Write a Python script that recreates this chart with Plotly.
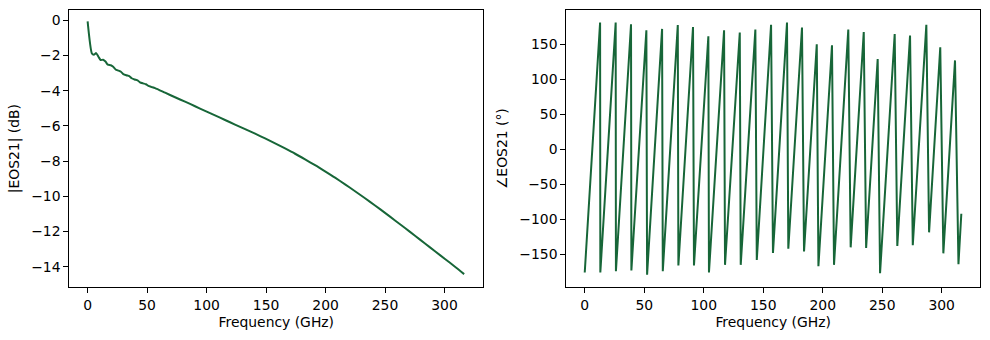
import plotly.graph_objects as go

# Magnitude (dB) vs frequency (GHz)
freq_mag = [0, 3.6, 5.2, 7.2, 9.2, 11.0, 13.0, 15.0, 17.0, 19.5, 21.5, 23.5, 26.0,
            28.0, 30.0, 32.5, 35.0, 37.0, 39.5, 42.0, 44.0, 46.5, 49.0, 51.0, 53.5,
            56.7, 65.1, 73.5, 81.9, 90.3, 98.7, 107.1, 115.5, 123.9, 132.4, 140.8,
            149.2, 157.6, 166.0, 174.4, 182.8, 191.2, 199.6, 208.0, 216.4, 224.8,
            233.2, 241.6, 250.0, 258.4, 266.8, 275.2, 283.6, 292.0, 300.4, 308.8,
            316.5]
mag_db = [-0.06, -1.88, -1.95, -1.86, -2.08, -2.25, -2.24, -2.34, -2.52, -2.55,
          -2.64, -2.79, -2.86, -2.92, -3.05, -3.12, -3.17, -3.29, -3.36, -3.41,
          -3.52, -3.58, -3.63, -3.72, -3.78, -3.85, -4.11, -4.37, -4.62, -4.88,
          -5.14, -5.40, -5.66, -5.92, -6.18, -6.44, -6.71, -6.99, -7.28, -7.58,
          -7.90, -8.23, -8.58, -8.94, -9.32, -9.71, -10.11, -10.52, -10.94, -11.37,
          -11.80, -12.24, -12.68, -13.12, -13.56, -14.00, -14.42]

# Phase (deg) vs frequency (GHz): vertices of the wrapped phase
freq_phase = [0, 12.9, 13.1, 26.0, 26.2, 38.9, 39.2, 51.8, 52.4, 65.0, 65.6,
              78.2, 78.7, 91.0, 91.8, 103.9, 104.4, 117.1, 117.9, 130.3, 131.1,
              143.4, 144.6, 156.6, 158.2, 170.0, 171.1, 182.6, 184.3, 195.0, 196.4,
              207.8, 209.5, 221.5, 223.5, 234.5, 236.5, 246.2, 248.2, 260.5, 262.7,
              273.4, 275.7, 287.1, 289.4, 298.8, 301.4, 311.2, 314.1, 316.5]
phase_deg = [-176, 181, -176, 181, -174, 178.6, -173, 170, -179, 172, -174,
             177.5, -166, 174.7, -166, 161.5, -176, 170, -165, 166.7, -165,
             171, -158, 178, -148, 181, -142, 174, -146, 150, -167,
             148.6, -165, 171, -140, 167.6, -141, 129, -177, 164.7, -138,
             162.4, -137, 178, -118.6, 145.7, -148.6, 127, -164, -92]

mag_ticks = [0, -2, -4, -6, -8, -10, -12, -14]
phase_ticks = [-150, -100, -50, 0, 50, 100, 150]
freq_ticks = [0, 50, 100, 150, 200, 250, 300]


def minus(v):
    return "\u2212" + str(-v) if v < 0 else str(v)


color = "#176638"
font = dict(family="DejaVu Sans", size=13.9, color="black")

fig = go.Figure()
fig.add_trace(go.Scatter(x=freq_mag, y=mag_db, mode="lines",
                         line=dict(color=color, width=2, shape="spline", smoothing=0.6),
                         xaxis="x", yaxis="y", showlegend=False))
fig.add_trace(go.Scatter(x=freq_phase, y=phase_deg, mode="lines",
                         line=dict(color=color, width=2), xaxis="x2", yaxis="y2",
                         showlegend=False))

axis_common = dict(showline=True, linecolor="black", linewidth=1, mirror=True,
                   ticks="outside", ticklen=5, tickwidth=1, tickcolor="black",
                   showgrid=False, zeroline=False, tickfont=font, automargin=False)

ydom = [1 - 287.3 / 340, 1 - 10 / 340]
fig.update_layout(
    width=990, height=340,
    margin=dict(l=0, r=0, t=0, b=0),
    paper_bgcolor="white", plot_bgcolor="white",
    font=font,
    xaxis=dict(domain=[69.3 / 990, 483.3 / 990], range=[-15.4, 332.6],
               tickvals=freq_ticks, anchor="y",
               title=dict(text="Frequency (GHz)", font=font, standoff=5),
               **axis_common),
    yaxis=dict(domain=ydom, range=[-15.17, 0.59], tickvals=mag_ticks,
               ticktext=[minus(v) for v in mag_ticks],
               anchor="x",
               title=dict(text="|EOS21| (dB)", font=font, standoff=8),
               **axis_common),
    xaxis2=dict(domain=[566.3 / 990, 980 / 990], range=[-15.5, 332.2],
                tickvals=freq_ticks, anchor="y2",
                title=dict(text="Frequency (GHz)", font=font, standoff=5),
                **axis_common),
    yaxis2=dict(domain=ydom, range=[-197.1, 199.0], tickvals=phase_ticks,
                ticktext=[minus(v) for v in phase_ticks],
                anchor="x2",
                title=dict(text="\u2220EOS21 (\u00b0)", font=font, standoff=8),
                **axis_common),
)

fig.write_html("out.html")
